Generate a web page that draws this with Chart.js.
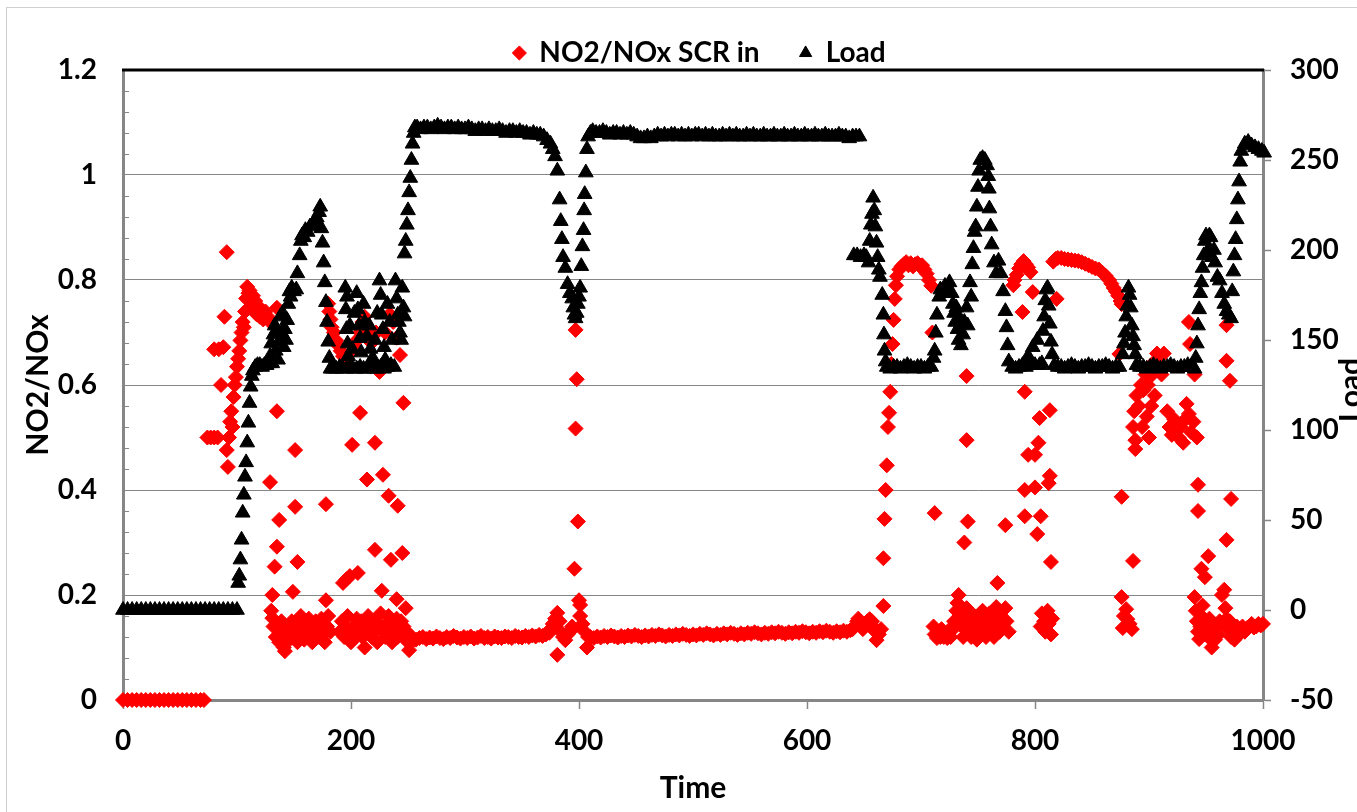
<!DOCTYPE html>
<html>
<head>
<meta charset="utf-8">
<title>NO2/NOx SCR in and Load</title>
<script src="https://cdn.jsdelivr.net/npm/chart.js@4.4.1/dist/chart.umd.min.js"></script>
<style>
  html, body { margin: 0; padding: 0; background: #fff; }
  #wrap { width: 1357px; height: 812px; }
</style>
</head>
<body>
<div id="wrap"><canvas id="scrChart" width="1357" height="812"></canvas></div>
<script>
// axis ticks
const timeTicks = [0, 200, 400, 600, 800, 1000];
const ratioTicks = [0, 0.2, 0.4, 0.6, 0.8, 1, 1.2];
const loadTicks = [-50, 0, 50, 100, 150, 200, 250, 300];

// NO2/NOx SCR in (one line per group)
const noxTime = [
  0, 4, 8, 12, 16, 20, 24, 28, 32, 36, 40, 44, 48, 52, 56, 60, 64, 68, 71,
  74, 77, 80, 83, 80, 84, 88, 86, 89, 91, 91, 92, 93, 94, 95, 96, 97, 98, 99, 100,
  101, 102, 103, 104, 105, 106, 107, 108, 109, 110, 111, 112, 113, 114, 115, 116, 117, 118, 120, 121,
  123, 125, 127, 129, 135, 129, 135, 137, 135, 133, 131, 130, 131, 151, 151, 153, 149, 178, 178,
  132, 134, 136, 137, 139, 140, 141, 142, 143, 144, 146, 147, 148, 150, 152, 153, 155, 156, 157, 159,
  160, 162, 163, 165, 166, 168, 169, 171, 172, 174, 175, 177, 179, 180, 182,
  190, 192, 194, 195, 197, 199, 200, 202, 204, 205, 207, 209, 210, 212, 213, 215, 217, 218, 220, 222,
  223, 225, 226, 228, 230, 231, 233, 235, 236, 238, 240, 241, 243, 244, 246, 247, 249, 250, 251, 253, 255,
  193, 196, 199, 206, 208, 201, 221, 214, 228, 233, 241, 221, 235, 246, 245, 227, 240, 248,
  180, 181, 182, 183, 185, 187, 189, 191, 193, 196, 199, 202, 205, 208, 210, 212, 214, 216, 218, 220,
  222, 225, 230, 234, 237, 240, 243,
  257, 260, 263, 266, 269, 272, 275, 278, 281, 284, 287, 290, 293, 296, 299, 302, 305, 308, 311, 314,
  317, 320, 323, 326, 329, 332, 335, 338, 341, 344, 347, 350, 353, 356, 359, 362, 365, 368, 371, 374,
  375, 377, 379, 381, 383, 381, 384, 386, 388, 390, 392, 394, 395, 396, 397, 398, 397, 399, 400, 401,
  401, 403, 405, 407, 408,
  410, 413, 416, 419, 422, 425, 428, 431, 434, 437, 440, 443, 446, 449, 452, 455, 458, 461, 464, 467,
  470, 473, 476, 479, 482, 485, 488, 491, 494, 497, 500, 503, 506, 509, 512, 515, 518, 521, 524, 527,
  530, 533, 536, 539, 542, 545, 548, 551, 554, 557, 560, 563, 566, 569, 572, 575, 578, 581, 584, 587,
  590, 593, 596, 599, 602, 605, 608, 611, 614, 617, 620, 623, 626, 629, 632, 635, 638,
  640, 642, 644, 645, 647, 649, 651, 653, 655, 657, 658, 660, 661, 663, 665, 667,
  667, 668, 669, 670, 671, 672, 673, 674, 675, 676, 677, 678, 679,
  681, 683, 685, 687, 689, 691, 693, 695, 697, 699, 701, 703, 705, 707, 709, 710, 712,
  711, 712, 714, 715, 717, 718, 720, 721, 723, 724, 726, 728, 729, 731, 732, 733, 734, 736, 737, 739,
  740, 741, 742, 744, 745, 747, 748, 749, 751, 752, 754, 755, 757, 758, 760, 761, 763, 764, 766, 767,
  769, 770, 772, 774, 775, 777,
  740, 740, 741, 738, 767, 774,
  781, 782, 784, 786, 788, 790, 792, 794, 796, 798, 789, 819,
  791, 813, 804, 803, 794, 800, 813, 791, 800, 812, 791, 805, 802, 814,
  805, 806, 808, 809, 811, 812, 814, 815,
  816, 818, 820, 823, 826, 829, 832, 835, 838, 841, 844, 847, 850, 853, 856, 859, 862, 865, 867, 869,
  871, 873, 875, 876,
  874, 876, 876, 877, 878, 880, 881, 883, 885, 886,
  886, 887, 888, 888, 889, 891, 893, 895, 897, 899, 901, 903, 905, 907, 909, 911, 913, 898, 902, 905,
  894, 900, 916, 918, 920, 922, 924, 926, 928, 930, 932, 933, 935, 937, 939, 942,
  935, 936, 940, 943, 943, 952, 946, 949, 968, 972, 968, 968, 971,
  940, 941, 942, 943, 944, 945, 946, 947, 948, 949, 950, 952, 953, 955, 956, 958, 959, 961, 962, 964,
  966, 967, 968, 969, 971, 972, 974, 975, 977, 979, 980, 982, 984, 986, 988, 990, 992, 994, 996, 998, 1000
];
const noxRatio = [
  0, 0, 0, 0, 0, 0, 0, 0, 0, 0, 0, 0, 0, 0, 0, 0, 0, 0, 0,
  0.50, 0.50, 0.50, 0.50, 0.668, 0.668, 0.672, 0.60, 0.73, 0.853, 0.476, 0.444, 0.50, 0.53, 0.55, 0.52, 0.577, 0.60, 0.615, 0.635,
  0.65, 0.665, 0.685, 0.70, 0.72, 0.71, 0.74, 0.765, 0.787, 0.775, 0.78, 0.765, 0.75, 0.77, 0.745, 0.76, 0.735, 0.75, 0.73, 0.745,
  0.725, 0.74, 0.73, 0.72, 0.747, 0.415, 0.55, 0.343, 0.292, 0.254, 0.20, 0.17, 0.156, 0.476, 0.368, 0.263, 0.206, 0.373, 0.19,
  0.14, 0.12, 0.135, 0.11, 0.15, 0.125, 0.10, 0.093, 0.12, 0.14, 0.115, 0.13, 0.15, 0.12, 0.14, 0.11, 0.125, 0.16, 0.135, 0.115,
  0.14, 0.12, 0.155, 0.13, 0.11, 0.135, 0.15, 0.12, 0.14, 0.155, 0.125, 0.11, 0.14, 0.16, 0.13,
  0.13, 0.15, 0.12, 0.14, 0.16, 0.13, 0.11, 0.14, 0.12, 0.155, 0.13, 0.15, 0.12, 0.10, 0.135, 0.16, 0.14, 0.12, 0.13, 0.15,
  0.11, 0.14, 0.165, 0.13, 0.12, 0.145, 0.16, 0.13, 0.11, 0.14, 0.155, 0.12, 0.13, 0.15, 0.14, 0.12, 0.13, 0.11, 0.095, 0.12, 0.115,
  0.223, 0.23, 0.236, 0.242, 0.547, 0.486, 0.49, 0.42, 0.429, 0.389, 0.37, 0.286, 0.267, 0.566, 0.28, 0.208, 0.192, 0.175,
  0.755, 0.74, 0.725, 0.71, 0.70, 0.685, 0.675, 0.665, 0.655, 0.65, 0.66, 0.675, 0.685, 0.70, 0.72, 0.73, 0.71, 0.69, 0.68, 0.695,
  0.70, 0.625, 0.70, 0.735, 0.72, 0.69, 0.657,
  0.115, 0.118, 0.12, 0.116, 0.119, 0.117, 0.121, 0.118, 0.116, 0.12, 0.118, 0.122, 0.119, 0.117, 0.12, 0.118, 0.121, 0.117, 0.119, 0.122,
  0.118, 0.12, 0.117, 0.121, 0.119, 0.118, 0.121, 0.12, 0.118, 0.122, 0.12, 0.119, 0.122, 0.12, 0.123, 0.121, 0.124, 0.122, 0.125, 0.128,
  0.135, 0.145, 0.155, 0.166, 0.15, 0.086, 0.13, 0.12, 0.114, 0.125, 0.13, 0.14, 0.137, 0.25, 0.517, 0.611, 0.705, 0.34, 0.19, 0.181,
  0.16, 0.145, 0.13, 0.10, 0.12,
  0.12, 0.118, 0.121, 0.119, 0.122, 0.12, 0.123, 0.121, 0.119, 0.122, 0.12, 0.123, 0.121, 0.124, 0.122, 0.12, 0.123, 0.121, 0.124, 0.122,
  0.125, 0.123, 0.121, 0.124, 0.122, 0.125, 0.123, 0.126, 0.124, 0.122, 0.125, 0.123, 0.126, 0.124, 0.127, 0.125, 0.123, 0.126, 0.124, 0.127,
  0.125, 0.128, 0.126, 0.124, 0.127, 0.125, 0.128, 0.126, 0.129, 0.127, 0.125, 0.128, 0.126, 0.129, 0.127, 0.13, 0.128, 0.126, 0.129, 0.127,
  0.13, 0.128, 0.131, 0.129, 0.127, 0.13, 0.128, 0.131, 0.129, 0.132, 0.13, 0.128, 0.131, 0.129, 0.132, 0.13, 0.133,
  0.135, 0.14, 0.15, 0.155, 0.145, 0.135, 0.14, 0.15, 0.154, 0.15, 0.14, 0.13, 0.114, 0.125, 0.135, 0.179,
  0.27, 0.345, 0.40, 0.447, 0.52, 0.547, 0.587, 0.64, 0.678, 0.724, 0.764, 0.79, 0.807,
  0.82, 0.826, 0.83, 0.834, 0.828, 0.832, 0.826, 0.83, 0.832, 0.826, 0.828, 0.82, 0.812, 0.80, 0.789, 0.70, 0.356,
  0.14, 0.125, 0.118, 0.13, 0.12, 0.135, 0.12, 0.128, 0.118, 0.132, 0.12, 0.135, 0.15, 0.17, 0.185, 0.2, 0.16, 0.14, 0.12, 0.15,
  0.175, 0.16, 0.13, 0.12, 0.14, 0.16, 0.13, 0.115, 0.14, 0.155, 0.17, 0.13, 0.12, 0.15, 0.165, 0.13, 0.145, 0.12, 0.177, 0.15,
  0.13, 0.16, 0.14, 0.175, 0.15, 0.13,
  0.617, 0.495, 0.34, 0.30, 0.223, 0.333,
  0.79, 0.80, 0.81, 0.822, 0.83, 0.836, 0.83, 0.824, 0.815, 0.777, 0.739, 0.764,
  0.587, 0.552, 0.537, 0.49, 0.467, 0.467, 0.427, 0.40, 0.405, 0.413, 0.35, 0.35, 0.316, 0.263,
  0.14, 0.165, 0.15, 0.13, 0.17, 0.145, 0.125, 0.155,
  0.835, 0.84, 0.842, 0.842, 0.84, 0.839, 0.838, 0.837, 0.836, 0.834, 0.831, 0.828, 0.825, 0.822, 0.82, 0.814, 0.808, 0.80, 0.793, 0.785,
  0.778, 0.77, 0.76, 0.754,
  0.659, 0.387, 0.196, 0.137, 0.16, 0.173, 0.154, 0.145, 0.135, 0.265,
  0.52, 0.55, 0.478, 0.495, 0.58, 0.56, 0.60, 0.59, 0.62, 0.60, 0.635, 0.62, 0.645, 0.66, 0.64, 0.62, 0.66, 0.54, 0.56, 0.58,
  0.52, 0.50, 0.55, 0.52, 0.505, 0.535, 0.515, 0.50, 0.52, 0.49, 0.535, 0.564, 0.545, 0.51, 0.53, 0.50,
  0.72, 0.678, 0.62, 0.41, 0.36, 0.274, 0.25, 0.234, 0.305, 0.383, 0.714, 0.646, 0.608,
  0.196, 0.17, 0.15, 0.13, 0.116, 0.14, 0.16, 0.18, 0.15, 0.125, 0.14, 0.12, 0.155, 0.10, 0.13, 0.115, 0.14, 0.125, 0.15, 0.2,
  0.21, 0.175, 0.155, 0.137, 0.15, 0.12, 0.13, 0.115, 0.14, 0.125, 0.135, 0.14, 0.13, 0.137, 0.14, 0.145, 0.138, 0.14, 0.145, 0.142, 0.145
];

// Load
const loadTime = [
  0, 4, 8, 12, 16, 20, 24, 28, 32, 36, 40, 44, 48, 52, 56, 60, 64, 68, 72, 76, 80, 84, 88, 92, 96, 100,
  101, 102, 103, 104, 105, 106, 107, 108, 109, 110, 111, 112, 113, 114, 116, 118, 120,
  122, 124, 126, 128,
  129, 130, 131, 132, 133, 134, 135, 136, 137, 138, 139, 140, 141, 142, 143, 144, 145,
  146, 147, 148, 150, 152, 153, 155, 156, 157, 159, 160, 162, 164, 166, 168, 170, 172, 173,
  174, 175, 176, 177, 178, 179, 180, 181, 182,
  184, 187, 190, 193, 196, 199, 202, 205, 208, 211, 214, 217, 220, 223, 226, 229, 232, 235, 238,
  195, 195.5, 196, 196.5, 197, 197.5, 199, 201, 203, 205, 206, 207, 208, 209, 211, 212, 214, 216, 217, 219,
  221, 223, 225, 226, 227, 228, 229, 230, 232, 234, 236, 239, 240, 241, 242, 243, 245, 246, 247, 244,
  247, 248, 249, 250, 251, 252, 253, 254, 255, 256,
  258, 261, 264, 267, 270, 273, 276, 279, 282, 285, 288, 291, 294, 297, 300, 303, 306, 309, 312, 315,
  318, 321, 324, 327, 330, 333, 336, 339, 342, 345, 348, 351, 354, 357, 360, 363,
  366, 369, 372, 375, 377, 379,
  381, 383, 384, 385, 386, 388, 390, 392, 394, 395, 396, 397, 398, 399, 400, 401, 402, 403, 404, 404.5,
  405, 406, 407, 408, 410,
  412, 415, 418, 421, 424, 427, 430, 433, 436, 439, 442, 445, 448, 451, 454, 457, 460, 463, 466, 469,
  472, 475, 478, 481, 484, 487, 490, 493, 496, 499, 502, 505, 508, 511, 514, 517, 520, 523, 526, 529,
  532, 535, 538, 541, 544, 547, 550, 553, 556, 559, 562, 565, 568, 571, 574, 577, 580, 583, 586, 589,
  592, 595, 598, 601, 604, 607, 610, 613, 616, 619, 622, 625, 628, 631, 634, 637, 640, 643, 646,
  641, 644, 647, 650, 652, 654, 655, 656, 657, 658, 659, 660, 661, 662, 663, 664, 666, 667, 667.5, 668, 669,
  670, 673, 676, 679, 682, 685, 688, 691, 694, 697, 700, 703, 706, 709,
  711, 712, 713, 714, 716, 717, 719, 721, 723, 725, 727, 728, 729, 730, 731, 732, 733, 734, 735, 737,
  738, 740, 741, 743, 744,
  745, 746, 747, 748, 749, 750, 751, 752, 754, 756, 758, 759, 759.5, 760, 761, 762, 764, 766, 768, 770,
  772, 774, 775, 776,
  777, 780, 783, 786, 789, 792, 794, 796, 798, 800, 802, 804, 806,
  807, 808, 809, 810, 811, 812, 813, 814, 815,
  817, 820, 823, 826, 829, 832, 835, 838, 841, 844, 847, 850, 853, 856, 859, 862, 865, 868, 871, 874,
  877, 878, 879, 880, 881, 882, 883, 884, 885, 886, 887, 888,
  889, 892, 895, 898, 901, 904, 907, 910, 913, 916, 919, 922, 925, 928, 931, 934, 937, 940,
  941, 942, 943, 944, 945, 946, 947, 948, 949, 950, 952, 953, 954, 955, 957, 958, 960, 962, 964, 966,
  968, 970, 972, 973, 974, 975, 976, 977, 978, 979, 980, 981, 984, 987,
  990, 993, 996, 999, 1001
];
const loadValue = [
  0, 0, 0, 0, 0, 0, 0, 0, 0, 0, 0, 0, 0, 0, 0, 0, 0, 0, 0, 0, 0, 0, 0, 0, 0, 0,
  15, 19, 28, 39, 54, 64, 74, 82, 93, 104, 115, 124, 130, 133, 135, 136, 136,
  135, 136, 136, 137,
  141, 148, 137, 153, 158, 144, 156, 139, 149, 163, 154, 165, 146, 156, 150, 161, 170,
  177, 174, 179, 177, 178, 187, 197, 205, 208, 207, 211, 210, 213, 214, 216, 218, 221, 224,
  212, 204, 193, 182, 171, 160, 149, 140, 134,
  134, 134, 135, 134, 134, 135, 134, 134, 135, 134, 134, 135, 134, 134, 135, 134, 135, 136, 135,
  179, 167, 156, 174, 148, 141, 158, 145, 165, 176, 167, 158, 151, 143, 170, 160, 152, 158, 145, 140,
  150, 165, 183, 175, 164, 156, 146, 139, 170, 160, 150, 183, 173, 164, 160, 154, 179, 168, 163, 150,
  198, 205, 214, 222, 232, 240, 250, 259, 265, 268,
  268, 267, 268, 268, 267, 268, 269, 268, 267, 268, 268, 267, 268, 267, 267, 268, 267, 266, 267, 267,
  266, 267, 266, 266, 267, 266, 265, 266, 266, 265, 266, 265, 265, 264, 265, 264,
  264, 263, 261, 259, 256, 252,
  244, 228, 216, 206, 196, 190, 181, 176, 173, 168, 164, 162, 165, 170, 174, 179, 191, 202, 211, 222,
  231, 243, 256, 263, 265,
  266, 265, 265, 266, 265, 264, 265, 265, 264, 265, 264, 265, 264, 263, 262, 262, 263, 262, 263, 264,
  263, 264, 263, 264, 264, 263, 264, 263, 264, 263, 264, 264, 263, 264, 263, 264, 263, 263, 264, 263,
  264, 263, 264, 263, 263, 264, 263, 264, 263, 263, 264, 263, 263, 264, 263, 263, 264, 263, 263, 264,
  263, 263, 264, 263, 263, 264, 263, 263, 264, 263, 263, 263, 264, 263, 263, 262, 263, 263, 263,
  197, 197, 196, 197, 196, 193, 205, 214, 220, 229, 222, 213, 204, 196, 189, 185, 175, 164, 153, 144, 138,
  135, 134, 135, 135, 134, 135, 136, 135, 134, 135, 135, 134, 135, 135,
  140, 144, 154, 164, 174, 178, 176, 180, 177, 182, 176, 170, 165, 160, 168, 156, 150, 162, 147, 153,
  160, 168, 158, 182, 174,
  192, 201, 210, 213, 224, 235, 244, 250, 251, 250, 247, 241, 234, 223, 213, 203, 193, 187, 194, 187,
  177, 166, 157, 147,
  138, 135, 134, 135, 136, 135, 141, 137, 146, 136, 150, 136, 137,
  155, 163, 172, 178, 179, 169, 159, 149, 142,
  136, 135, 135, 134, 135, 136, 135, 134, 135, 135, 136, 135, 134, 135, 135, 136, 135, 134, 135, 135,
  142, 148, 154, 163, 169, 179, 175, 168, 158, 152, 147, 142,
  136, 135, 135, 134, 135, 136, 135, 134, 135, 135, 136, 135, 134, 135, 135, 136, 135, 134,
  140, 148, 158, 167, 176, 182, 190, 197, 205, 208, 200, 208, 207, 196, 200, 193, 185, 183, 176, 170,
  166, 164, 162, 177, 188, 197, 206, 217, 228, 238, 249, 255, 259, 260,
  258, 257, 256, 255, 254
];

const noxPoints = noxTime.map((t, i) => ({ x: t, y: noxRatio[i] }));
const loadPoints = loadTime.map((t, i) => ({ x: t, y: loadValue[i] }));

const AXIS_GREY = '#868686';

// frame, inner minor ticks, black top edge and the clipped "Load" title
const framePlugin = {
  id: 'frame',
  beforeDraw(chart) {
    const { ctx, width, height } = chart;
    ctx.save();
    ctx.fillStyle = '#ffffff';
    ctx.fillRect(0, 0, width, height);
    ctx.strokeStyle = '#d0d0d0';
    ctx.lineWidth = 1;
    ctx.strokeRect(6.5, 7.5, width + 20, height + 20);
    ctx.restore();
  },
  afterLayout(chart) {
    // Excel sets the legend a little lower and to the right
    const lg = chart.legend;
    lg.top += 7;
    lg.bottom += 7;
    lg.left += 14;
    lg.right += 14;
  },
  beforeDatasetsDraw(chart) {
    const { ctx, chartArea: a, scales } = chart;
    ctx.save();
    ctx.strokeStyle = AXIS_GREY;
    ctx.lineWidth = 1;
    for (let i = 0; i < ratioTicks.length - 1; i++) {
      const step = (ratioTicks[i + 1] - ratioTicks[i]) / 5;
      for (let k = 1; k < 5; k++) {
        const y = Math.round(scales.y.getPixelForValue(ratioTicks[i] + k * step)) + 0.5;
        ctx.beginPath();
        ctx.moveTo(a.left, y);
        ctx.lineTo(a.left + 6, y);
        ctx.stroke();
      }
    }
    ctx.strokeStyle = '#000000';
    ctx.lineWidth = 3;
    ctx.beginPath();
    ctx.moveTo(a.left - 1, a.top);
    ctx.lineTo(a.right + 1, a.top);
    ctx.stroke();
    ctx.restore();
  },
  afterDraw(chart) {
    const { ctx, chartArea: a } = chart;
    ctx.save();
    ctx.translate(1361, (a.top + a.bottom) / 2 + 5);
    ctx.rotate(-Math.PI / 2);
    ctx.font = 'bold 30px Lato';
    ctx.fillStyle = '#000000';
    ctx.textAlign = 'center';
    ctx.textBaseline = 'alphabetic';
    ctx.fillText('Load', 0, 0);
    ctx.restore();
  }
};

Chart.defaults.font.family = 'Lato';
Chart.defaults.font.size = 28;
Chart.defaults.font.weight = 'bold';
Chart.defaults.color = '#000000';

const ctx = document.getElementById('scrChart').getContext('2d');
new Chart(ctx, {
  type: 'scatter',
  data: {
    datasets: [
      {
        label: 'NO2/NOx SCR in',
        data: noxPoints,
        yAxisID: 'y',
        order: 1,
        clip: false,
        pointStyle: 'rectRot',
        pointRadius: 7.5,
        pointBorderWidth: 1,
        backgroundColor: '#ff0000',
        borderColor: '#ff0000'
      },
      {
        label: 'Load',
        data: loadPoints,
        yAxisID: 'y1',
        order: 0,
        clip: false,
        pointStyle: 'triangle',
        pointRadius: 8.5,
        pointBorderWidth: 1,
        backgroundColor: '#000000',
        borderColor: '#000000'
      }
    ]
  },
  options: {
    responsive: false,
    devicePixelRatio: 1,
    animation: false,
    events: [],
    layout: { padding: { left: 14, top: -8, right: 0, bottom: 0 } },
    plugins: {
      tooltip: { enabled: false },
      legend: {
        position: 'top',
        labels: {
          usePointStyle: true,
          boxWidth: 12,
          boxHeight: 10,
          padding: 40,
          font: { size: 28, weight: 'bold' },
          sort: (a, b) => a.datasetIndex - b.datasetIndex
        }
      }
    },
    scales: {
      x: {
        type: 'linear',
        min: 0,
        max: 1000,
        afterBuildTicks: (scale) => { scale.ticks = timeTicks.map(value => ({ value })); },
        afterFit: (scale) => { scale.height = 112; },
        grid: { drawOnChartArea: false, drawTicks: true, tickLength: 9, tickColor: AXIS_GREY, tickWidth: 1.5 },
        border: { display: true, color: AXIS_GREY, width: 3 },
        ticks: { padding: 15, callback: (v) => String(v) },
        title: { display: true, text: 'Time', font: { size: 30, weight: 'bold' }, padding: { top: 6, bottom: 6 } }
      },
      y: {
        type: 'linear',
        position: 'left',
        min: 0,
        max: 1.2,
        afterBuildTicks: (scale) => { scale.ticks = ratioTicks.map(value => ({ value })); },
        afterFit: (scale) => { scale.width = 109; },
        grid: { color: AXIS_GREY, lineWidth: 1, drawTicks: false },
        border: { display: true, color: AXIS_GREY, width: 3 },
        ticks: { padding: 26, callback: (v) => String(v) },
        title: { display: true, text: 'NO2/NOx', font: { size: 30, weight: 'bold' }, padding: { top: 6, bottom: 6 } }
      },
      y1: {
        type: 'linear',
        position: 'right',
        min: -50,
        max: 300,
        afterBuildTicks: (scale) => { scale.ticks = loadTicks.map(value => ({ value })); },
        afterFit: (scale) => { scale.width = 94; },
        grid: { drawOnChartArea: false, drawTicks: true, tickLength: 8, tickColor: AXIS_GREY, tickWidth: 1.5 },
        border: { display: true, color: AXIS_GREY, width: 3 },
        ticks: { padding: 19, callback: (v) => String(v) }
      }
    }
  },
  plugins: [framePlugin]
});
</script>
</body>
</html>
